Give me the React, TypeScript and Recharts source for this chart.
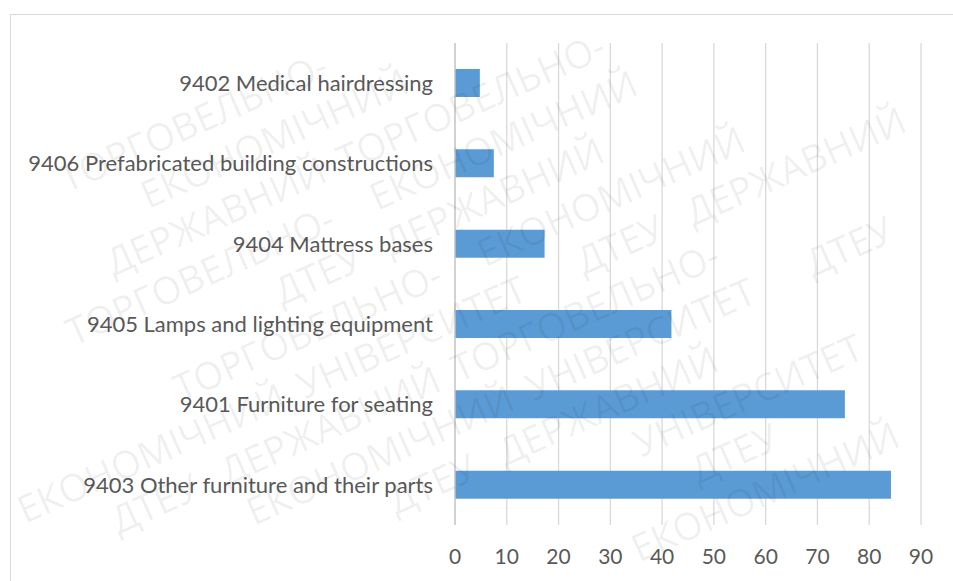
import React from 'react';
import { BarChart, Bar, XAxis, YAxis, CartesianGrid } from 'recharts';

// HS 94 subgroups, top to bottom as drawn
const categories = [
    '9402 Medical hairdressing',
    '9406 Prefabricated building constructions',
    '9404 Mattress bases',
    '9405 Lamps and lighting equipment',
    '9401 Furniture for seating',
    '9403 Other furniture and their parts',
];
const values = [4.8, 7.5, 17.3, 41.8, 75.3, 84.2];
const xTicks = [0, 10, 20, 30, 40, 50, 60, 70, 80, 90];

const watermarkWords = ['ДТЕУ', 'ДЕРЖАВНИЙ', 'ТОРГОВЕЛЬНО-', 'ЕКОНОМІЧНИЙ', 'УНІВЕРСИТЕТ'];

const W = 953;
const H = 581;
const FS = 38;

// lay the watermark words out along slanted rows, keep only the ones fully inside the page
const buildWatermark = () => {
    const angle = (24 * Math.PI) / 180;
    const dx = Math.cos(angle);
    const dy = -Math.sin(angle);
    const cap = FS * 0.75;
    const out: { x: number; y: number; word: string }[] = [];
    for (let r = 0; r < 26; r++) {
        let along = -((r * 131) % 260);
        let k = (r * 2) % watermarkWords.length;
        const x0 = -150;
        const y0 = 30 + r * 52;
        while (along < 1600) {
            const word = watermarkWords[k];
            const w = word.length * FS * 0.7;
            const wSafe = word.length * FS * 0.72;
            const px = x0 + along * dx;
            const py = y0 + along * dy;
            // baseline start/end and the cap line above them
            const corners = [
                [px, py],
                [px + wSafe * dx, py + wSafe * dy],
                [px + cap * dy, py - cap * dx],
                [px + wSafe * dx + cap * dy, py + wSafe * dy - cap * dx],
                [px, py + 8],
            ];
            const inside = corners.every(([cx, cy]) => cx > 3 && cx < W - 3 && cy > 3 && cy < H - 3);
            if (inside) out.push({ x: px, y: py, word });
            along += w + FS * 0.35;
            k = (k + 1) % watermarkWords.length;
        }
    }
    return out;
};

const Watermark: React.FC = () => {
    const words = buildWatermark();
    return (
        <svg
            width={W}
            height={H}
            style={{ position: 'absolute', left: 0, top: 0, pointerEvents: 'none' }}
        >
            {words.map((w, i) => (
                <text
                    key={i}
                    transform={`translate(${w.x.toFixed(1)} ${w.y.toFixed(1)}) rotate(-24)`}
                    fontSize={FS}
                    fill="#000"
                    fillOpacity={0.065}
                    style={{ fontFamily: 'Open Sans' }}
                >
                    {w.word}
                </text>
            ))}
        </svg>
    );
};

export default function App() {
    const data = categories.map((name, i) => ({ name, value: values[i] }));

    return (
        <div
            style={{
                position: 'absolute',
                left: 0,
                top: 0,
                width: W,
                height: H,
                overflow: 'hidden',
                background: '#fff',
                fontFamily: 'Lato',
            }}
        >
            <div
                style={{
                    position: 'absolute',
                    left: 10,
                    top: 14,
                    width: 1000,
                    height: 700,
                    border: '1px solid #d9d9d9',
                }}
            />
            <div style={{ position: 'absolute', left: 0, top: 0 }}>
                <BarChart
                    width={W}
                    height={H}
                    data={data}
                    layout="vertical"
                    margin={{ top: 43, right: 32, bottom: 0, left: 0 }}
                >
                    <CartesianGrid horizontal={false} stroke="#d9d9d9" strokeWidth={1.3} />
                    <XAxis
                        type="number"
                        domain={[0, 90]}
                        ticks={xTicks}
                        height={56}
                        axisLine={false}
                        tickLine={false}
                        tickSize={0}
                        tickMargin={24}
                        tick={{ fill: '#595959', fontSize: 21 }}
                    />
                    <YAxis
                        type="category"
                        dataKey="name"
                        width={455}
                        axisLine={{ stroke: '#c8c8c8', strokeWidth: 1.3 }}
                        tickLine={false}
                        tickSize={0}
                        tickMargin={22}
                        interval={0}
                        tick={{ fill: '#595959', fontSize: 22 }}
                    />
                    <Bar dataKey="value" fill="#5b9bd5" barSize={28} isAnimationActive={false} />
                </BarChart>
            </div>
            <Watermark />
        </div>
    );
}
